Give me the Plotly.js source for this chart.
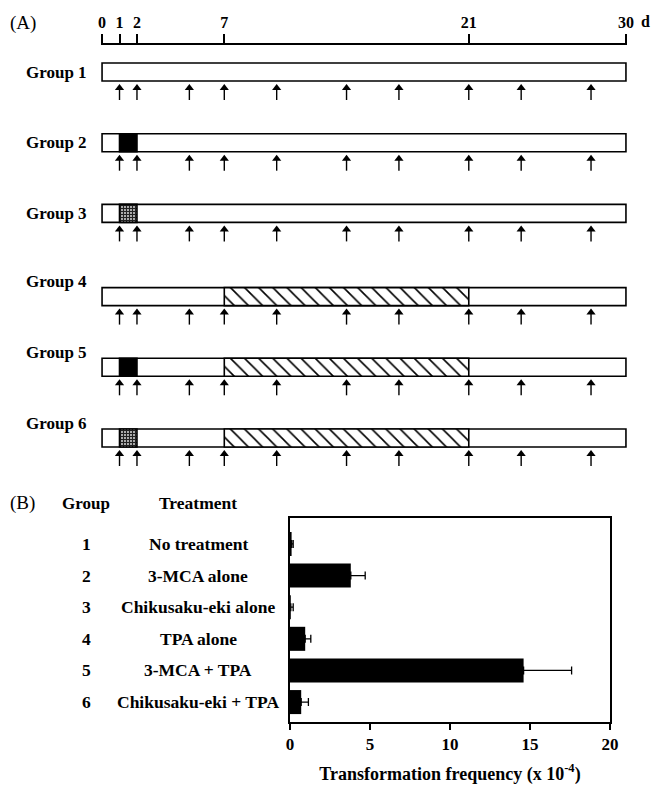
<!DOCTYPE html>
<html><head><meta charset="utf-8">
<script src="https://cdn.plot.ly/plotly-3.0.1.min.js"></script>
<style>html,body{margin:0;padding:0;background:#fff}</style>
</head><body><div id="chart" style="width:651px;height:785px"></div>
<script>
// ---------- Panel A: treatment schedule ----------
const groups = ['Group 1','Group 2','Group 3','Group 4','Group 5','Group 6'];
const timelineDays = [0, 1, 2, 7, 21, 30];
const timelineLabels = ['0', '1', '2', '7', '21', '30'];
const cultureStart = 0, cultureEnd = 30;
const mcaGroups = ['Group 2', 'Group 5'];          // 3-MCA, day 1-2 (black)
const chikuGroups = ['Group 3', 'Group 6'];        // Chikusaku-eki, day 1-2 (stippled)
const initStart = 1, initEnd = 2;
const tpaGroups = ['Group 4', 'Group 5', 'Group 6']; // TPA, day 7-21 (hatched)
const tpaStart = 7, tpaEnd = 21;
const mediumChangeDays = [1, 2, 5, 7, 10, 14, 17, 21, 24, 28];

// ---------- Panel B: transformation frequency ----------
const groupNumbers = ['1', '2', '3', '4', '5', '6'];
const treatments = ['No treatment', '3-MCA alone', 'Chikusaku-eki alone', 'TPA alone', '3-MCA + TPA', 'Chikusaku-eki + TPA'];
const frequency = [0.1, 3.8, 0.05, 0.95, 14.6, 0.7];
const frequencyErr = [0.1, 0.9, 0.15, 0.35, 3.0, 0.45];

// ---------- layout helpers ----------
const W = 651, H = 785;
const px = x => x / W;
const py = y => 1 - y / H;
const FONT = 'Liberation Serif, Times New Roman, serif';
const bold = s => ({family: FONT, size: s, color: '#000', weight: 700});

// row centre on panel-A y scale (scale units = pixels); labels-above rows get extra room
const rowY = name => { const i = groups.indexOf(name); return 72 + 70.7 * i + (i >= 3 ? 12.5 : 0); };
const BAR_H = 18;

const traces = [];
// culture period outline
traces.push({
  type: 'bar', orientation: 'h', xaxis: 'x', yaxis: 'y',
  y: groups.map(rowY), x: groups.map(() => cultureEnd - cultureStart), base: groups.map(() => cultureStart),
  width: BAR_H, marker: {color: '#fff', line: {color: '#000', width: 1.6}}, hoverinfo: 'skip', showlegend: false
});
// TPA hatched
traces.push({
  type: 'bar', orientation: 'h', xaxis: 'x', yaxis: 'y',
  y: tpaGroups.map(rowY), x: tpaGroups.map(() => tpaEnd - tpaStart), base: tpaGroups.map(() => tpaStart),
  width: BAR_H, marker: {color: '#fff', line: {color: '#000', width: 1.6},
    pattern: {shape: '\\', fgcolor: '#000', bgcolor: '#fff', size: 10, solidity: 0.16, fillmode: 'replace'}},
  hoverinfo: 'skip', showlegend: false
});
// 3-MCA black
traces.push({
  type: 'bar', orientation: 'h', xaxis: 'x', yaxis: 'y',
  y: mcaGroups.map(rowY), x: mcaGroups.map(() => initEnd - initStart), base: mcaGroups.map(() => initStart),
  width: BAR_H, marker: {color: '#000', line: {color: '#000', width: 1.6}}, hoverinfo: 'skip', showlegend: false
});
// Chikusaku-eki stippled
traces.push({
  type: 'bar', orientation: 'h', xaxis: 'x', yaxis: 'y',
  y: chikuGroups.map(rowY), x: chikuGroups.map(() => initEnd - initStart), base: chikuGroups.map(() => initStart),
  width: BAR_H, marker: {color: '#fff', line: {color: '#000', width: 1.6},
    pattern: {shape: '+', fgcolor: '#222', bgcolor: '#fff', size: 3, solidity: 0.7, fillmode: 'replace'}},
  hoverinfo: 'skip', showlegend: false
});
// medium-change arrows
const stemX = [], stemY = [], headX = [], headY = [];
groups.forEach(g => {
  const c = rowY(g);
  mediumChangeDays.forEach(d => {
    stemX.push(d, d, null); stemY.push(c + BAR_H / 2 + 5, c + BAR_H / 2 + 19, null);
    headX.push(d); headY.push(c + BAR_H / 2 + 7);
  });
});
traces.push({type: 'scatter', mode: 'lines', xaxis: 'x', yaxis: 'y', x: stemX, y: stemY,
  line: {color: '#000', width: 1.4}, hoverinfo: 'skip', showlegend: false, cliponaxis: false});
traces.push({type: 'scatter', mode: 'markers', xaxis: 'x', yaxis: 'y', x: headX, y: headY,
  marker: {symbol: 'triangle-up', size: 8, color: '#000'}, hoverinfo: 'skip', showlegend: false, cliponaxis: false});

// Panel B bars
traces.push({
  type: 'bar', orientation: 'h', xaxis: 'x2', yaxis: 'y2',
  y: treatments, x: frequency, width: 0.76,
  marker: {color: '#000', line: {width: 0}},
  error_x: {type: 'data', symmetric: false, array: frequencyErr, arrayminus: frequency.map(() => 0),
    color: '#000', thickness: 1.3, width: 4},
  hoverinfo: 'skip', showlegend: false
});

const annotations = [];
const ann = (text, x, y, yref, font, xanchor) => annotations.push({
  text, x, y, xref: 'paper', yref, showarrow: false, font, xanchor: xanchor || 'center', yanchor: 'middle'
});
// panel labels
ann('(A)', px(8), py(23), 'paper', {family: FONT, size: 19, color: '#000'}, 'left');
ann('(B)', px(8), py(503), 'paper', {family: FONT, size: 19, color: '#000'}, 'left');
ann('d', px(639), py(22), 'paper', bold(16), 'left');
// group labels panel A
groups.forEach((g, i) => {
  const c = rowY(g);
  ann(g, px(89), i >= 3 ? c - 15 : c, 'y', bold(17), 'right');
});
// panel B headers and row labels
ann('Group', px(86), py(503), 'paper', bold(17));
ann('Treatment', px(198), py(503), 'paper', bold(17.5));
treatments.forEach((t, i) => {
  ann(groupNumbers[i], px(86), t, 'y2', bold(17.5));
  ann(t, px(198), t, 'y2', bold(17.5));
});

const layout = {
  width: W, height: H, margin: {l: 0, r: 0, t: 0, b: 0},
  paper_bgcolor: '#fff', plot_bgcolor: 'rgba(0,0,0,0)',
  barmode: 'overlay', showlegend: false,
  xaxis: {
    domain: [px(101), px(627)], range: [-0.06, 30.06], anchor: 'y', side: 'top',
    showline: true, linewidth: 2, linecolor: '#000', ticks: 'outside', ticklen: 9, tickwidth: 2, tickcolor: '#000',
    tickmode: 'array', tickvals: timelineDays, ticktext: timelineLabels, tickfont: bold(16),
    showgrid: false, zeroline: false, fixedrange: true
  },
  yaxis: {
    domain: [py(470), py(45)], range: [470, 45], anchor: 'x',
    visible: false, showgrid: false, zeroline: false, fixedrange: true
  },
  xaxis2: {
    domain: [px(290), px(610)], range: [0, 20], anchor: 'y2',
    showline: true, mirror: true, linewidth: 1.6, linecolor: '#000', ticks: 'outside', ticklen: 6, tickwidth: 1.5, tickcolor: '#000',
    tickmode: 'array', tickvals: [0, 5, 10, 15, 20], tickfont: bold(17),
    title: {text: 'Transformation frequency (x 10<sup>-4</sup>)', font: bold(18), standoff: 15},
    showgrid: false, zeroline: false, fixedrange: true
  },
  yaxis2: {
    domain: [py(722), py(518)], anchor: 'x2', type: 'category', categoryorder: 'array', categoryarray: treatments,
    range: [5.63, -0.82], showline: true, mirror: true, linewidth: 1.6, linecolor: '#000',
    ticks: '', showticklabels: false, showgrid: false, zeroline: false, fixedrange: true
  },
  annotations
};

Plotly.newPlot('chart', traces, layout, {staticPlot: true, displayModeBar: false});
</script></body></html>
